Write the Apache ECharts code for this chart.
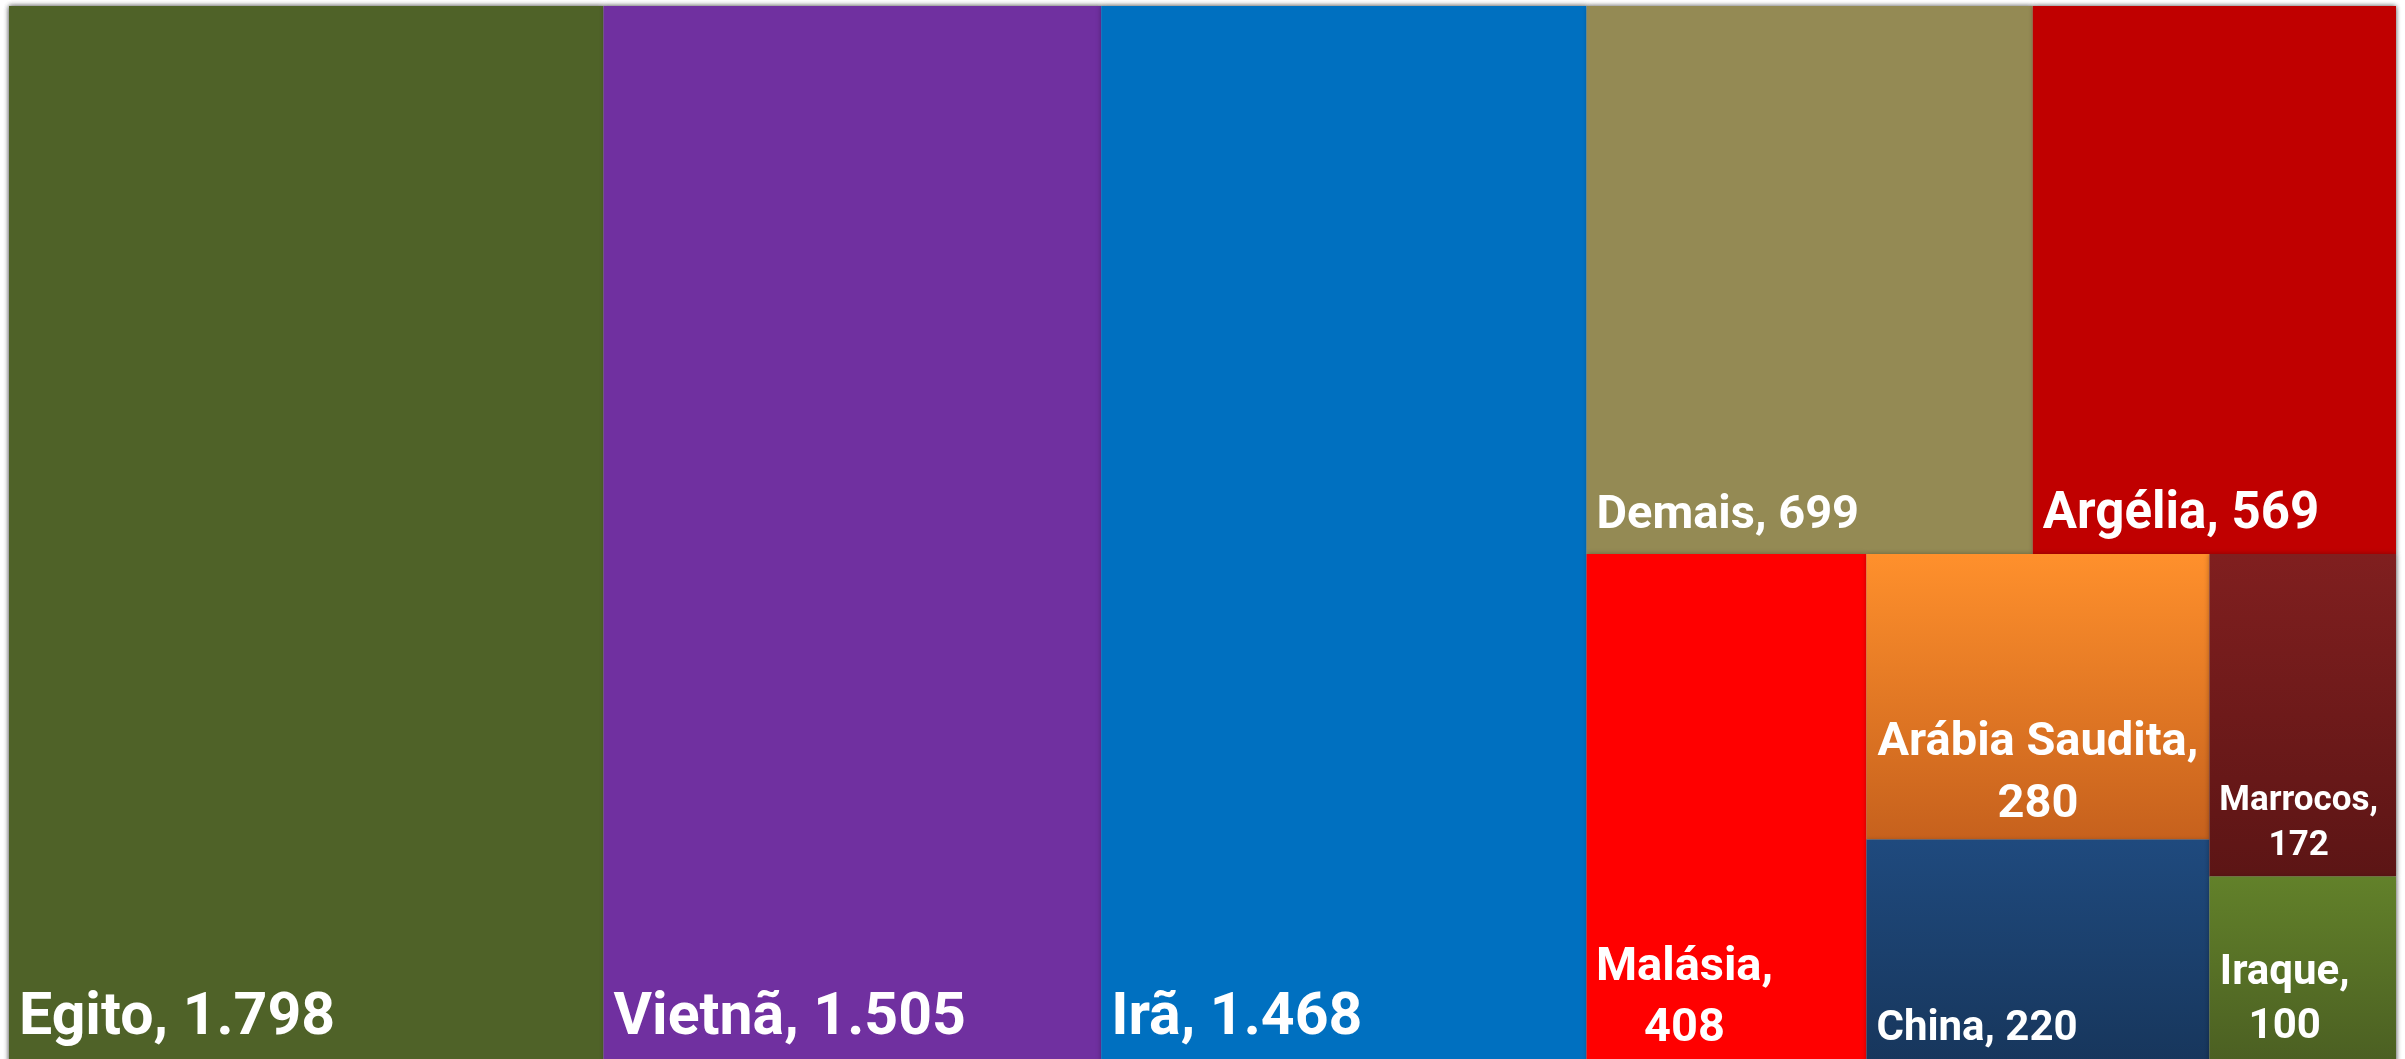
<!DOCTYPE html>
<html>
<head>
<meta charset="utf-8">
<script src="https://cdn.jsdelivr.net/npm/echarts@6/dist/echarts.min.js"></script>
<style>
  html, body { margin: 0; padding: 0; background: #ffffff; }
  #chart { width: 2405px; height: 1059px; }
</style>
</head>
<body>
<div id="chart"></div>
<script>
// Exportações por destino
const countries = ['Egito', 'Vietnã', 'Irã', 'Demais', 'Argélia', 'Malásia', 'Arábia Saudita', 'China', 'Marrocos', 'Iraque'];
const values = [1798, 1505, 1468, 699, 569, 408, 280, 220, 172, 100];

// Fill per country: plain colour or [top, bottom] for a vertical gradient
const fills = [
  '#4F6228', '#7030A0', '#0070C0', '#948A54', '#C00000', '#FF0000',
  ['#FF902C', '#C6611D'], ['#1F4A7E', '#17365C'], ['#801F1F', '#5C1515'], ['#62812A', '#4B5F22']
];

// Label layout per country
const labelPositions = ['insideBottomLeft', 'insideBottomLeft', 'insideBottomLeft', 'insideBottomLeft', 'insideBottomLeft',
  'insideBottom', 'insideBottom', 'insideBottomLeft', 'insideBottom', 'insideBottom'];
const labelSizes = [59, 59, 59, 47, 51, 47, 47, 42, 35, 42];
const labelLineHeights = [70, 70, 70, 56, 58, 61, 62, 50, 45, 54];
const labelShiftX = [0, 0, 0, 0, 0, -42, 0, 0, -4, -18];
const labelShiftY = [0, 0, 0, 0, 0, 6, 7, 0, 2, 0];
const labelWrap = [false, false, false, false, false, true, true, false, true, true];

const formatNumber = v => String(v).replace(/\B(?=(\d{3})+(?!\d))/g, '.');

const toColor = f => Array.isArray(f)
  ? { type: 'linear', x: 0, y: 0, x2: 0, y2: 1, colorStops: [{ offset: 0, color: f[0] }, { offset: 1, color: f[1] }] }
  : f;

const data = countries.map((name, i) => ({
  name: name,
  value: values[i],
  itemStyle: { color: toColor(fills[i]) },
  label: {
    position: labelPositions[i],
    fontSize: labelSizes[i],
    lineHeight: labelLineHeights[i],
    offset: [labelShiftX[i], labelShiftY[i]],
    align: labelPositions[i] === 'insideBottom' ? 'center' : 'left',
    verticalAlign: 'bottom'
  }
}));

const chart = echarts.init(document.getElementById('chart'), null, { renderer: 'canvas' });
chart.setOption({
  animation: false,
  backgroundColor: '#ffffff',
  series: [{
    type: 'treemap',
    left: 9,
    right: 9,
    top: 6,
    bottom: -5,
    roam: false,
    nodeClick: false,
    squareRatio: 0.85,
    breadcrumb: { show: false },
    itemStyle: {
      borderWidth: 0,
      gapWidth: 0,
      shadowBlur: 5,
      shadowColor: 'rgba(0, 0, 0, 0.3)'
    },
    emphasis: { disabled: true },
    label: {
      show: true,
      color: '#ffffff',
      fontFamily: 'Roboto',
      fontWeight: 'bold',
      padding: 0,
      distance: 10,
      formatter: p => {
        const i = countries.indexOf(p.name);
        return p.name + ',' + (labelWrap[i] ? '\n' : ' ') + formatNumber(p.value);
      }
    },
    data: data
  }]
});
</script>
</body>
</html>
